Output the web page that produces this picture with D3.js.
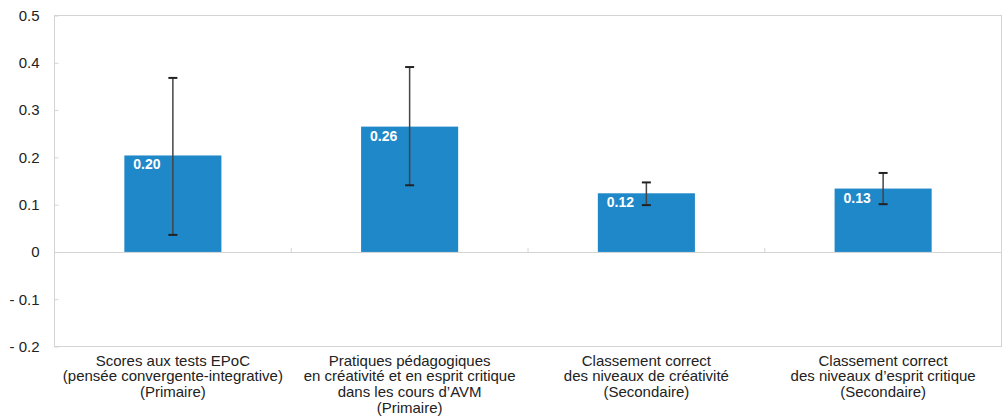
<!DOCTYPE html>
<html><head><meta charset="utf-8">
<script src="https://cdn.jsdelivr.net/npm/d3@7/dist/d3.min.js"></script>
<style>body{margin:0;background:#fff;} text{font-family:"Liberation Sans",Arial,Helvetica,sans-serif;}</style>
</head><body><svg id="c" width="1003" height="417"></svg>
<script>
const categories = [
  ["Scores aux tests EPoC","(pensée convergente-integrative)","(Primaire)"],
  ["Pratiques pédagogiques","en créativité et en esprit critique","dans les cours d’AVM","(Primaire)"],
  ["Classement correct","des niveaux de créativité","(Secondaire)"],
  ["Classement correct","des niveaux d’esprit critique","(Secondaire)"]
];
const values = [0.204, 0.265, 0.124, 0.134];
const valueLabels = ["0.20","0.26","0.12","0.13"];
const errLow = [0.036, 0.141, 0.099, 0.101];
const errHigh = [0.368, 0.391, 0.147, 0.167];
const yTicks = [-0.2,-0.1,0,0.1,0.2,0.3,0.4,0.5];
const yTickLabels = ["- 0.2","- 0.1","0","0.1","0.2","0.3","0.4","0.5"];

const svg = d3.select("#c");
const L=54.5, R=1001.5, T=15.5, B=346.5;
const x = d3.scaleBand().domain(d3.range(categories.length)).range([L,R]).paddingInner(0.59).paddingOuter(0.295);
const xb = d3.scaleBand().domain(d3.range(categories.length)).range([L,R]);
const y = d3.scaleLinear().domain([-0.2,0.5]).range([B,T]);

// frame
svg.append("rect").attr("x",L).attr("y",T).attr("width",R-L).attr("height",B-T)
  .attr("fill","none").attr("stroke","#d4d4d4").attr("stroke-width",1);

// y axis
const yAxis = d3.axisLeft(y).tickValues(yTicks).tickFormat((d,i)=>yTickLabels[i]).tickSize(-4).tickPadding(15);
const ga = svg.append("g").attr("transform",`translate(${L},0)`).call(yAxis);
ga.select(".domain").remove();
ga.selectAll(".tick line").attr("stroke","#d4d4d4");
ga.selectAll(".tick text").attr("font-size","15px").attr("fill","#222");

// zero line
svg.append("line").attr("x1",L).attr("x2",R).attr("y1",Math.round(y(0))+0.5).attr("y2",Math.round(y(0))+0.5)
  .attr("stroke","#d4d4d4");
// category separator ticks
svg.selectAll(".sep").data(d3.range(1,categories.length)).join("line")
  .attr("x1",d=>xb(d)).attr("x2",d=>xb(d)).attr("y1",y(0)-4).attr("y2",y(0)).attr("stroke","#d4d4d4");

// bars
svg.selectAll(".bar").data(values).join("rect")
  .attr("x",(d,i)=>x(i)).attr("width",x.bandwidth())
  .attr("y",d=>y(d)).attr("height",d=>y(0)-y(d)).attr("fill","#1f88c9");

// value labels
svg.selectAll(".vl").data(values).join("text")
  .attr("x",(d,i)=>x(i)+9).attr("y",d=>y(d)+14)
  .attr("fill","#fff").attr("font-weight","bold").attr("font-size","14px")
  .text((d,i)=>valueLabels[i]);

// error bars
const cx = i => xb(i)+xb.bandwidth()/2;
const eg = svg.append("g").attr("stroke","#222");
values.forEach((v,i)=>{
  eg.append("line").attr("x1",cx(i)).attr("x2",cx(i)).attr("y1",y(errHigh[i])).attr("y2",y(errLow[i])).attr("stroke","#444").attr("stroke-width",1.5);
  [errHigh[i],errLow[i]].forEach(e=>{
    eg.append("line").attr("x1",cx(i)-4.5).attr("x2",cx(i)+4.5).attr("y1",y(e)).attr("y2",y(e)).attr("stroke-width",2);
  });
});

// category labels
categories.forEach((lines,i)=>{
  const t = svg.append("text").attr("text-anchor","middle").attr("font-size","15px").attr("fill","#222");
  lines.forEach((ln,j)=>{
    t.append("tspan").attr("x",cx(i)).attr("y",365.5+j*15.8).text(ln);
  });
});
</script></body></html>
